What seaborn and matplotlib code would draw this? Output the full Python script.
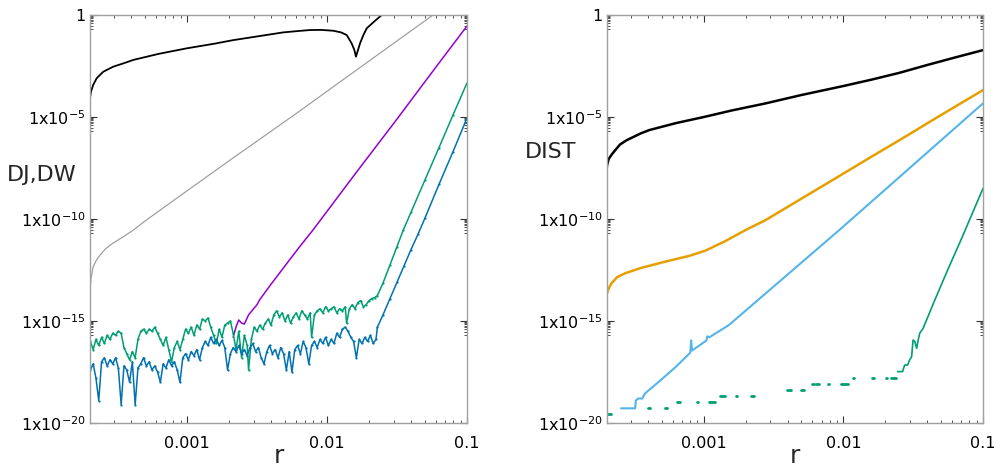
import numpy as np
import pandas as pd
import matplotlib
matplotlib.use("Agg")
import matplotlib.pyplot as plt
import matplotlib.ticker as mticker
import seaborn as sns

# ---------------- data (log10 values) ----------------
# Left panel (DJ,DW)
dj_black_lr = [-3.693, -3.685, -3.67, -3.645, -3.598, -3.526, -3.45, -3.383, -3.2, -3.0, -2.8, -2.67,
               -2.5, -2.312, -2.2, -2.121, -2.04, -1.955, -1.9, -1.859, -1.824, -1.805, -1.793, -1.78,
               -1.764, -1.74, -1.716, -1.66, -1.609, -1.55, -1.5]
dj_black_ly = [-4.08, -3.75, -3.43, -3.1, -2.78, -2.53, -2.36, -2.2, -1.9, -1.63, -1.4, -1.23,
               -1.05, -0.85, -0.78, -0.735, -0.73, -0.77, -0.85, -0.98, -1.39, -1.7, -2.04, -1.75,
               -1.39, -0.98, -0.65, -0.3, 0.0, 0.3, 0.5]

dj_gray_lr = [-3.693, -3.685, -3.67, -3.645, -3.62, -3.58, -3.53, -3.45, -3.383, -3.29, -3.0, -2.7,
              -2.214, -1.8, -1.243, -1.0]
dj_gray_ly = [-13.48, -12.9, -12.34, -12.0, -11.76, -11.45, -11.19, -10.85, -10.54, -10.05, -8.62, -7.15,
              -4.8, -2.75, 0.0, 1.2]

dj_purple_lr = [-2.67, -2.65, -2.63, -2.61, -2.59, -2.56, -2.53, -2.50, -2.48, -2.4, -2.3, -2.2, -2.1,
                -1.8, -1.5, -1.2, -1.0]
dj_purple_ly = [-15.8, -15.3, -14.95, -15.1, -15.15, -14.7, -14.45, -14.2, -13.95, -13.2, -12.3, -11.4,
                -10.54, -7.8, -5.1, -2.35, -0.54]

dj_green_lr = [-3.69, -3.67, -3.65, -3.63, -3.61, -3.59, -3.57, -3.55, -3.53, -3.51, -3.49, -3.47,
               -3.45, -3.43, -3.41, -3.39, -3.37, -3.35, -3.33, -3.31, -3.29, -3.27, -3.25, -3.23,
               -3.21, -3.19, -3.17, -3.15, -3.13, -3.11, -3.09, -3.07, -3.05, -3.03, -3.01, -2.99,
               -2.97, -2.95, -2.93, -2.91, -2.89, -2.87, -2.85, -2.83, -2.81, -2.79, -2.77, -2.75,
               -2.73, -2.71, -2.69, -2.67, -2.65, -2.63, -2.61, -2.59, -2.57, -2.56, -2.54, -2.52,
               -2.50, -2.48, -2.46, -2.44, -2.42, -2.40, -2.38, -2.36, -2.34, -2.32, -2.30, -2.28,
               -2.26, -2.24, -2.22, -2.20, -2.18, -2.16, -2.14, -2.12, -2.11, -2.09, -2.07, -2.05,
               -2.03, -2.01, -1.99, -1.97, -1.95, -1.93, -1.91, -1.89, -1.87, -1.86, -1.84, -1.82,
               -1.80, -1.78, -1.76, -1.74, -1.72, -1.70, -1.68, -1.66, -1.64,
               -1.60, -1.55, -1.50, -1.455, -1.4, -1.3, -1.2, -1.1, -1.0]
dj_green_ly = [-16.0, -16.4, -15.9, -16.2, -15.8, -16.1, -15.7, -15.9, -15.6, -15.7, -15.5, -15.6,
               -16.3, -16.6, -16.9, -16.5, -16.8, -15.9, -15.5, -15.4, -15.6, -15.4, -15.5, -15.3,
               -15.6, -15.9, -16.2, -15.8, -16.4, -17.0, -16.3, -16.0, -16.4, -15.9, -15.4, -15.6,
               -15.3, -15.7, -15.2, -15.4, -14.9, -15.0, -14.85, -15.3, -15.7, -16.1, -15.4, -15.8,
               -15.2, -15.1, -15.0, -15.6, -16.4, -15.5, -16.8, -15.7, -16.2, -17.4, -15.9, -15.3,
               -15.5, -15.2, -15.4, -15.1, -14.9, -15.2, -14.7, -14.5, -14.8, -14.6, -15.0, -14.7,
               -15.1, -14.8, -14.6, -14.9, -14.5, -14.7, -14.9, -14.6, -15.8, -14.7, -14.5, -14.4,
               -14.6, -14.3, -14.5, -14.4, -14.3, -14.6, -14.4, -14.5, -14.3, -15.1, -14.4, -14.2,
               -14.4, -14.1, -14.0, -14.3, -14.2, -14.0, -13.9, -13.85, -13.75,
               -13.14, -12.25, -11.35, -10.54, -9.67, -8.08, -6.5, -4.9, -3.33]

dj_blue_lr = [-3.69, -3.67, -3.65, -3.63, -3.61, -3.59, -3.57, -3.55, -3.53, -3.51, -3.49, -3.47,
              -3.45, -3.43, -3.41, -3.39, -3.37, -3.35, -3.33, -3.31, -3.29, -3.27, -3.25, -3.23,
              -3.21, -3.19, -3.17, -3.15, -3.13, -3.11, -3.09, -3.07, -3.05, -3.03, -3.01, -2.99,
              -2.97, -2.95, -2.93, -2.91, -2.89, -2.87, -2.85, -2.83, -2.81, -2.79, -2.77, -2.75,
              -2.73, -2.71, -2.69, -2.67, -2.65, -2.63, -2.61, -2.59, -2.57, -2.55, -2.53, -2.51,
              -2.49, -2.47, -2.45, -2.43, -2.41, -2.39, -2.37, -2.35, -2.33, -2.31, -2.29, -2.27,
              -2.25, -2.23, -2.21, -2.19, -2.17, -2.15, -2.13, -2.11, -2.09, -2.07, -2.05, -2.03,
              -2.01, -1.99, -1.97, -1.95, -1.93, -1.91, -1.89, -1.87, -1.85, -1.83, -1.81, -1.79,
              -1.77, -1.75, -1.73, -1.71, -1.69, -1.67, -1.65, -1.64,
              -1.60, -1.55, -1.50, -1.45, -1.40, -1.35, -1.30, -1.20, -1.10, -1.00]
dj_blue_ly = [-17.4, -17.1, -17.8, -18.9, -17.0, -16.8, -17.2, -16.9, -17.1, -16.8, -17.3, -19.1,
              -17.2, -17.4, -18.0, -17.0, -19.1, -17.3, -17.1, -16.8, -17.2, -17.0, -17.4, -17.2,
              -17.5, -18.0, -17.1, -17.3, -16.9, -17.2, -17.0, -17.4, -18.0, -16.8, -16.6, -16.9,
              -16.5, -16.7, -16.4, -16.9, -16.3, -16.0, -16.2, -15.8, -16.1, -15.9, -16.2, -15.95,
              -16.3, -17.4, -16.6, -16.3, -16.5, -16.2, -16.6, -16.4, -16.7, -16.3, -16.1, -16.5,
              -16.3, -16.8, -17.1, -16.5, -16.2, -16.6, -16.4, -16.8, -16.3, -16.6, -17.4, -16.5,
              -17.5, -16.4, -16.2, -16.6, -16.0, -16.3, -17.1, -16.2, -16.0, -16.3, -15.9, -16.1,
              -15.8, -16.2, -15.9, -16.1, -15.6, -15.8, -15.4, -15.3, -15.5, -15.8, -16.0, -16.8,
              -15.9, -16.1, -15.8, -16.0, -15.7, -16.1, -15.9, -15.3,
              -14.7, -13.9, -13.1, -12.3, -11.5, -10.75, -9.95, -8.3, -6.7, -5.05]

# Right panel (DIST)
dist_black_lr = [-3.70, -3.69, -3.68, -3.665, -3.65, -3.6, -3.55, -3.45, -3.39, -3.2, -3.0, -2.8,
                 -2.556, -2.3, -2.0, -1.8, -1.597, -1.4, -1.2, -1.0]
dist_black_ly = [-7.7, -7.3, -7.05, -6.9, -6.76, -6.35, -6.13, -5.8, -5.64, -5.3, -5.0, -4.68,
                 -4.33, -3.92, -3.48, -3.17, -2.83, -2.45, -2.08, -1.72]

dist_orange_lr = [-3.705, -3.695, -3.68, -3.66, -3.62, -3.563, -3.45, -3.275, -3.1, -2.988, -2.85,
                  -2.70, -2.556, -2.3, -2.077, -1.8, -1.597, -1.3, -1.0]
dist_orange_ly = [-14.1, -13.7, -13.4, -13.15, -12.85, -12.66, -12.4, -12.09, -11.8, -11.55, -11.1,
                  -10.54, -10.05, -9.0, -8.09, -6.95, -6.13, -4.9, -3.68]

dist_sky_lr = [-3.592, -3.491, -3.486, -3.47, -3.44, -3.42, -3.3, -3.2, -3.096, -3.09, -3.084, -3.0,
               -2.98, -2.975, -2.96, -2.82, -2.029, -1.0]
dist_sky_ly = [-19.28, -19.28, -18.9, -18.8, -18.8, -18.55, -17.85, -17.25, -16.55, -15.95, -16.45,
               -16.05, -15.95, -15.75, -15.8, -15.2, -10.54, -4.33]

dist_green_lr = [-1.612, -1.576, -1.561, -1.54, -1.525, -1.511, -1.501, -1.489, -1.475, -1.464,
                 -1.453, -1.429, -1.345, -1.25, -1.153, -1.0]
dist_green_ly = [-17.48, -17.48, -17.16, -17.16, -16.9, -16.75, -15.93, -16.0, -16.34, -15.93,
                 -15.6, -15.36, -13.97, -12.45, -10.95, -8.5]
# isolated low-level fragments of the green DIST series
dist_green_frag_lr_start = [-3.683, -3.396, -3.276, -3.192, -3.048, -2.964, -2.880, -2.772, -2.664,
                            -2.401, -2.304, -2.223, -2.195, -2.113, -2.017, -1.933, -1.793, -1.698, -1.657]
dist_green_frag_lr_end = [-3.662, -3.386, -3.266, -3.172, -3.038, -2.916, -2.844, -2.762, -2.640,
                          -2.376, -2.281, -2.209, -2.173, -2.103, -1.969, -1.923, -1.783, -1.688, -1.626]
dist_green_frag_ly = [-19.56, -19.28, -19.28, -18.99, -18.99, -18.99, -18.66, -18.66, -18.66,
                      -18.38, -18.38, -18.09, -18.09, -18.09, -18.09, -17.81, -17.81, -17.81, -17.81]

y_tick_exp = [-20, -15, -10, -5, 0]
x_ticks = [0.001, 0.01, 0.1]
x_tick_labels = ["0.001", "0.01", "0.1"]

C_BLACK = "#000000"
C_GRAY = "#a0a0a0"
C_PURPLE = "#9400d3"
C_GREEN = "#009e73"
C_BLUE = "#0072b2"
C_ORANGE = "#e69f00"
C_SKY = "#56b4e9"

# ---------------- figure ----------------
sns.set_style("white")
plt.rcParams["font.family"] = ["DejaVu Sans"]

fig = plt.figure(figsize=(10, 4.7), dpi=100)
ax1 = fig.add_axes([0.09, 0.1, 0.377, 0.868])
ax2 = fig.add_axes([0.607, 0.1, 0.376, 0.868])


def pw(v):
    return np.power(10.0, np.asarray(v, dtype=float))


def line(ax, lr, ly, color, lw, **kw):
    sns.lineplot(x=pw(lr), y=pw(ly), ax=ax, color=color, linewidth=lw,
                 estimator=None, sort=False, legend=False, **kw)


for ax in (ax1, ax2):
    ax.set_xscale("log")
    ax.set_yscale("log")

line(ax1, dj_black_lr, dj_black_ly, C_BLACK, 1.3)
line(ax1, dj_gray_lr, dj_gray_ly, C_GRAY, 0.9)
line(ax1, dj_purple_lr, dj_purple_ly, C_PURPLE, 1.1)
line(ax1, dj_green_lr, dj_green_ly, C_GREEN, 1.1, marker="o", markersize=1.6, markeredgewidth=0)
line(ax1, dj_blue_lr, dj_blue_ly, C_BLUE, 1.1, marker="o", markersize=1.6, markeredgewidth=0)

line(ax2, dist_black_lr, dist_black_ly, C_BLACK, 1.8)
line(ax2, dist_orange_lr, dist_orange_ly, C_ORANGE, 1.8)
line(ax2, dist_sky_lr, dist_sky_ly, C_SKY, 1.5)
line(ax2, dist_green_lr, dist_green_ly, C_GREEN, 1.2)

frag = pd.DataFrame({
    "x": np.concatenate([pw(dist_green_frag_lr_start), pw(dist_green_frag_lr_end)]),
    "y": np.concatenate([pw(dist_green_frag_ly), pw(dist_green_frag_ly)]),
    "seg": np.concatenate([np.arange(len(dist_green_frag_ly))] * 2),
})
sns.lineplot(data=frag, x="x", y="y", units="seg", estimator=None, sort=True,
             color=C_GREEN, linewidth=2.0, ax=ax2, legend=False)


def ylab(e):
    return "1" if e == 0 else r"1x10$^{%d}$" % e


minor_y = [m * 10.0 ** (e - 1) for e in y_tick_exp for m in range(2, 10)]

for ax, lab, lx, ly_ in ((ax1, "DJ,DW", -0.127, 0.608), (ax2, "DIST", -0.149, 0.664)):
    ax.set_xlim(2.03e-4, 0.1)
    ax.set_ylim(1e-20, 1)
    ax.set_xticks(x_ticks)
    ax.set_xticklabels(x_tick_labels)
    ax.xaxis.set_minor_locator(mticker.LogLocator(base=10, subs=np.arange(2, 10), numticks=50))
    ax.xaxis.set_minor_formatter(mticker.NullFormatter())
    ax.set_yticks([10.0 ** e for e in y_tick_exp])
    ax.set_yticklabels([ylab(e) for e in y_tick_exp])
    ax.yaxis.set_minor_locator(mticker.FixedLocator(minor_y))
    ax.yaxis.set_minor_formatter(mticker.NullFormatter())
    ax.tick_params(which="both", direction="in", top=True, right=True, bottom=True, left=True,
                   colors="#333333", labelcolor="black", labelsize=11.5)
    ax.tick_params(which="major", length=5, width=0.8)
    ax.tick_params(which="minor", length=2.5, width=0.6)
    ax.tick_params(axis="x", which="major", pad=9)
    ax.tick_params(axis="y", which="major", pad=3)
    for s in ax.spines.values():
        s.set_color("#a0a0a0")
        s.set_linewidth(1.0)
        s.set_visible(True)
    ax.set_xlabel("r", fontsize=18, va="center")
    ax.xaxis.set_label_coords(0.5, -0.082)
    ax.set_ylabel(lab, fontsize=16, rotation=0, ha="center", va="center")
    ax.yaxis.set_label_coords(lx, ly_)

fig.savefig("out.png", dpi=100)
